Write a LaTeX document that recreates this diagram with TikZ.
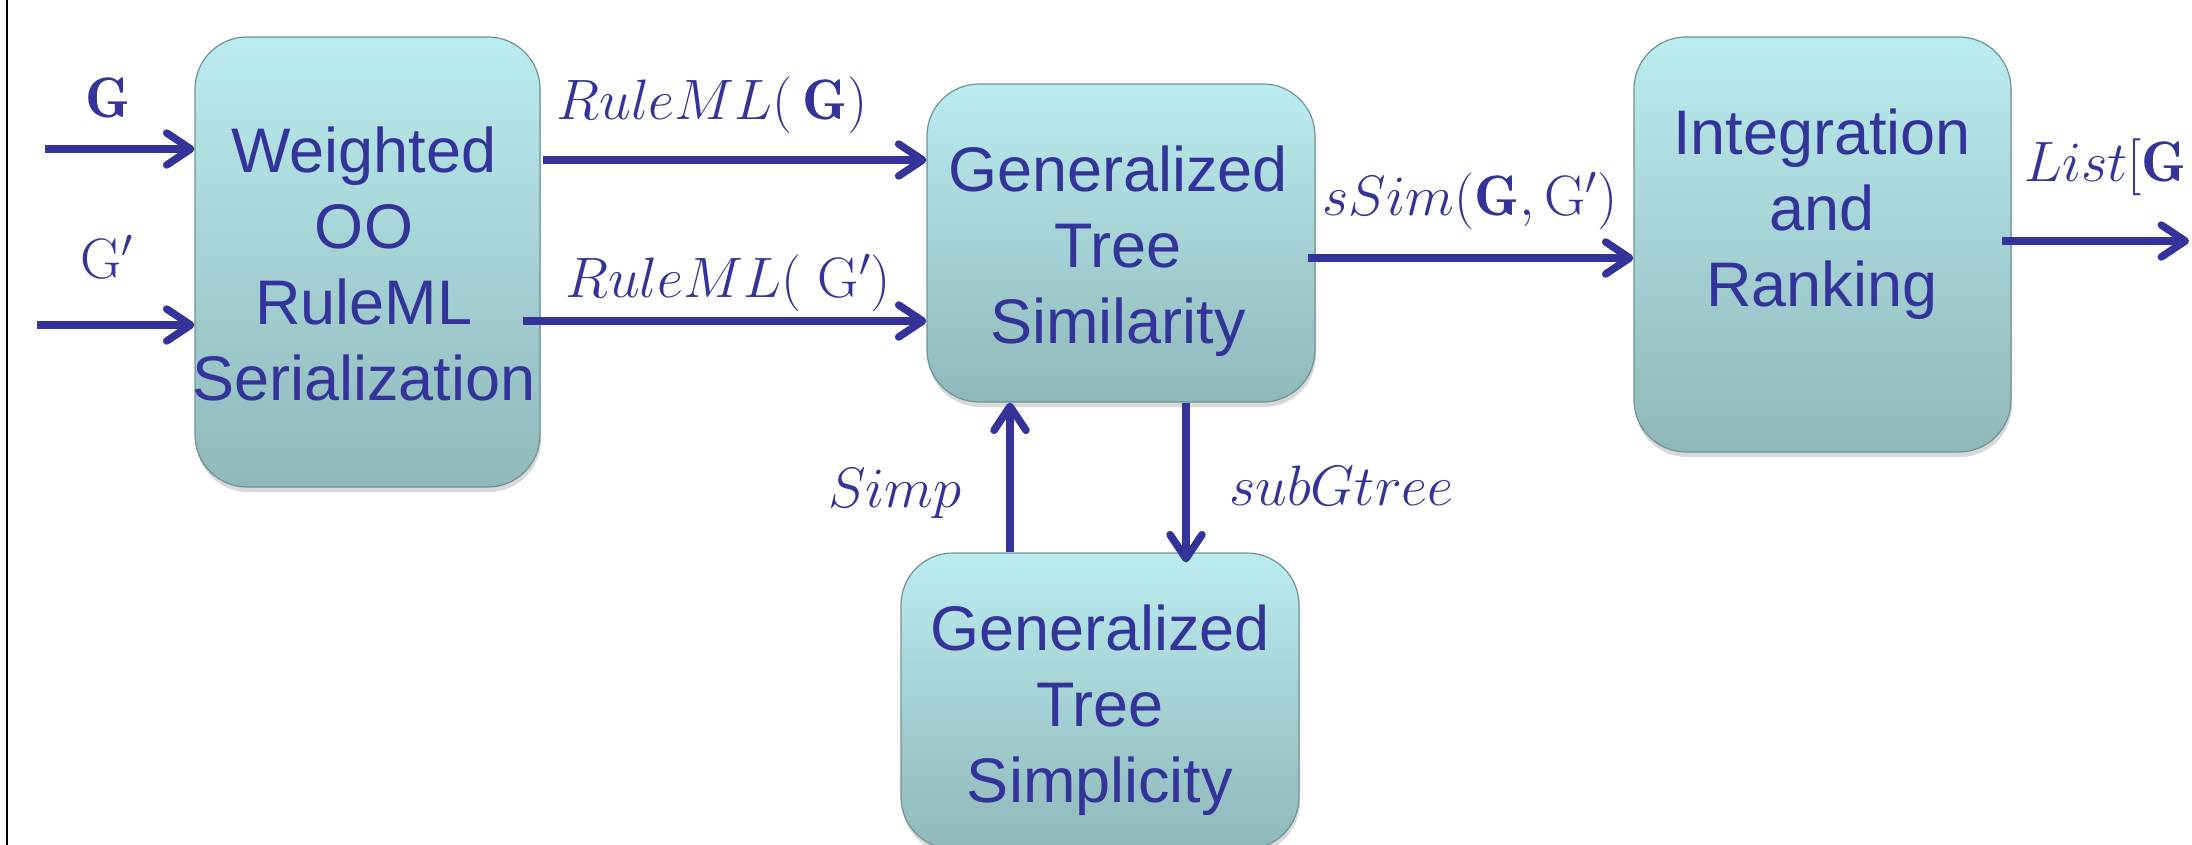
\documentclass[tikz,border=0pt]{standalone}
\usepackage{fix-cm}
\usepackage{fontspec}
\newfontfamily\boxfont{Liberation Sans}
\usetikzlibrary{arrows.meta,shadows,calc}
\definecolor{ink}{RGB}{51,51,153}
\definecolor{boxtop}{RGB}{187,236,239}
\definecolor{boxbot}{RGB}{143,184,186}
\definecolor{boxedge}{RGB}{112,146,149}
\begin{document}
\begin{tikzpicture}[x=1pt,y=-1pt,
  box/.style={rounded corners=52pt, top color=boxtop, bottom color=boxbot,
    draw=boxedge, line width=1.2pt, inner sep=0pt,
    drop shadow={shadow xshift=1pt, shadow yshift=-5pt, opacity=0.3}},
  boxtext/.style={text=ink, align=center, inner sep=0pt,
    font=\boxfont\fontsize{63}{76}\selectfont},
  lbl/.style={text=ink, inner sep=0pt, font=\fontsize{57}{68}\selectfont},
  arr/.style={draw=ink, line width=7.5pt,
    -{Straight Barb[length=24pt,width=32pt,round]}}
]
\useasboundingbox (0,0) rectangle (2192,845);
\clip (0,0) rectangle (2192,845);

% left frame line
\draw[line width=2.5pt] (7,0) -- (7,845);

% boxes
\node[box, minimum width=345pt, minimum height=450pt] (b1) at (367.5,262) {};
\node[box, minimum width=388pt, minimum height=318pt] (b2) at (1121,243) {};
\node[box, minimum width=377pt, minimum height=415pt] (b3) at (1822.5,244.5) {};
\node[box, minimum width=398pt, minimum height=296pt] (b4) at (1100,701) {};

% box texts
\node[boxtext] (t1) at (364,271) {\strut Weighted\\\strut OO\\\strut RuleML\\\strut Serialization};
\node[boxtext] (t2) at (1118,252) {\strut Generalized\\\strut Tree\\\strut Similarity};
\node[boxtext] (t3) at (1822,215) {\strut Integration\\\strut and\\\strut Ranking};
\node[boxtext] (t4) at (1100,711) {\strut Generalized\\\strut Tree\\\strut Simplicity};

% labels
\node[lbl, anchor=base] (lg) at (108,118) {$\mathbf{G}$};
\node[lbl, anchor=base] (lgp) at (107,278) {$\mathrm{G}'$};
\node[lbl, anchor=base] (l1) at (712,120) {$RuleML(\,\mathbf{G})$};
\node[lbl, anchor=base] (l2) at (728,297) {$RuleML(\;\mathrm{G}')$};
\node[lbl, anchor=base] (l3) at (1470,215) {$sSim(\mathbf{G},\mathrm{G}')$};
\node[lbl, anchor=base east] (l4) at (962,507) {$Simp$};
\node[lbl, anchor=base west] (l5) at (1229,505) {$subGtree$};
\node[lbl, anchor=base west] (l6) at (2024,182) {$List[\mathbf{G}$};

% connectors
\coordinate (gin) at (45,149);
\draw[arr] (gin) -- (gin -| b1.west);
\coordinate (gpin) at (37,325);
\draw[arr] (gpin) -- (gpin -| b1.west);
\coordinate (s1) at (543,160);
\draw[arr] (s1) -- (s1 -| b2.west);
\coordinate (s2) at (523,321);
\draw[arr] (s2) -- (s2 -| b2.west);
\coordinate (s3) at (1308,258);
\draw[arr] (s3) -- (s3 -| b3.west);
\coordinate (s4) at (2002,241);
\coordinate (e4) at (2189,241);
\draw[arr] (s4) -- (e4);
\coordinate (su) at (1010,0);
\draw[arr] (su |- b4.north) -- (su |- b2.south);
\coordinate (sd) at (1186,0);
\draw[arr] (sd |- b2.south) -- ($(sd |- b4.north)+(0,10)$);
\end{tikzpicture}
\end{document}
